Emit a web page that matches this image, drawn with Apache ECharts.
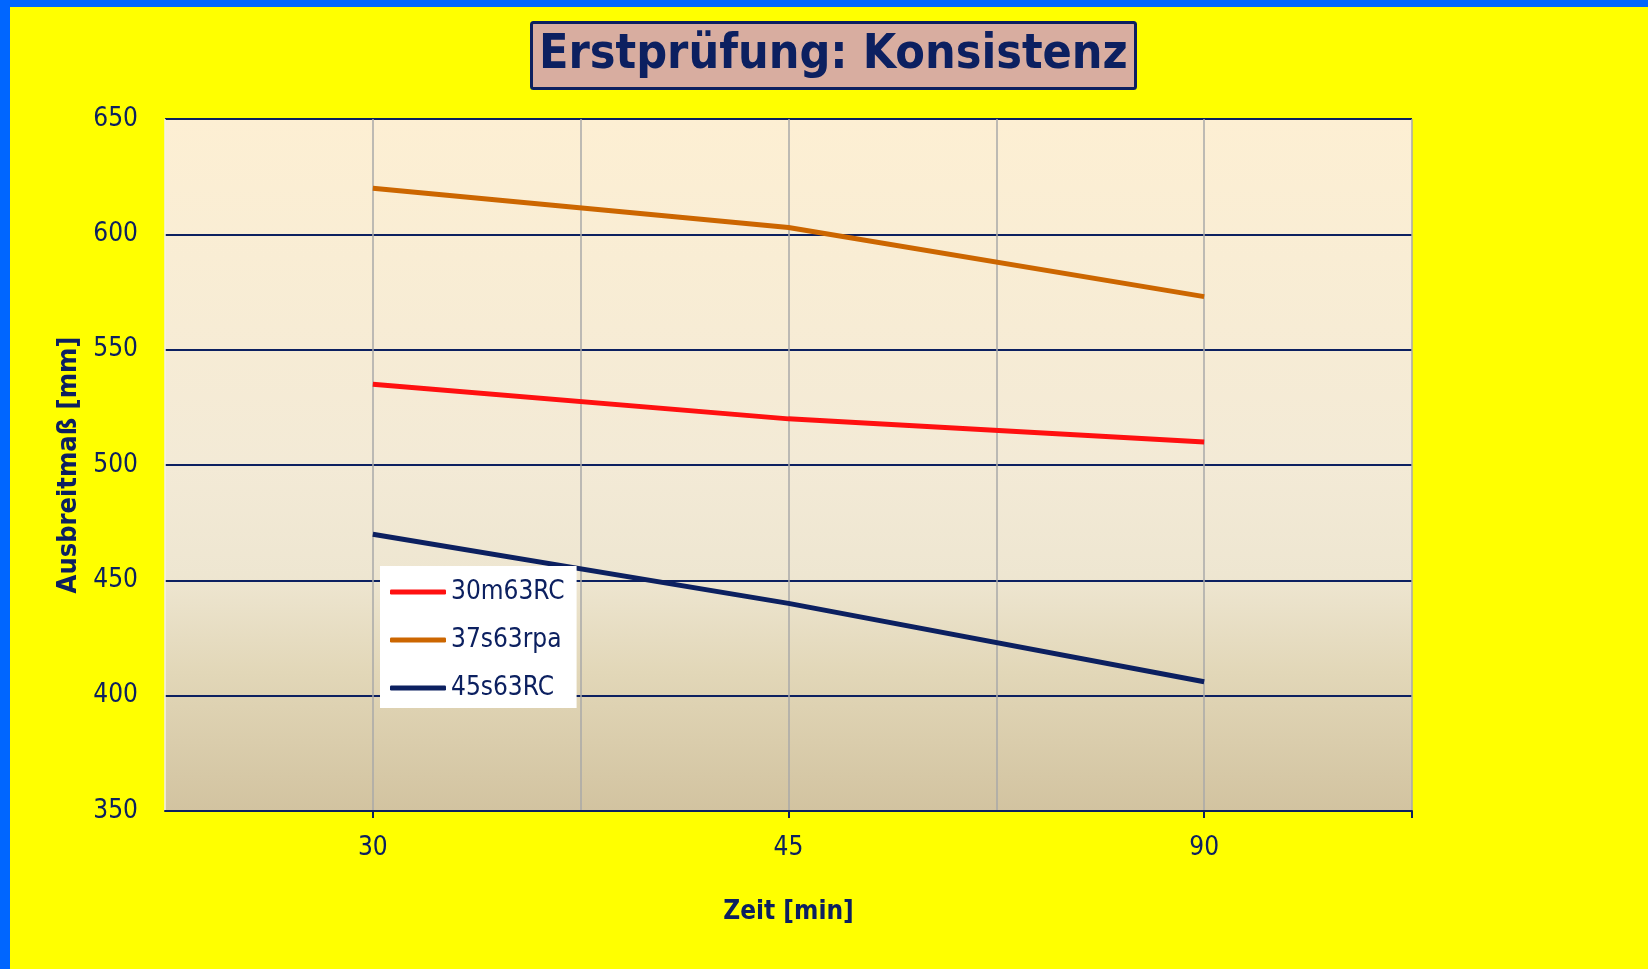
<!DOCTYPE html>
<html>
<head>
<meta charset="utf-8">
<script src="https://cdn.jsdelivr.net/npm/echarts@6/dist/echarts.min.js"></script>
<style>
html,body{margin:0;padding:0;background:#ffff00;}
#chart{width:1648px;height:969px;}
</style>
</head>
<body>
<div id="chart"></div>
<script>
// Category slots of the x axis (blank slots between the measured times)
const categories = ['', '30', '', '45', '', '90', ''];
const times = ['30', '45', '90'];
const seriesNames = ['30m63RC', '37s63rpa', '45s63RC'];
const s30m63RC = [535, 520, 510];
const s37s63rpa = [620, 603, 573];
const s45s63RC = [470, 440, 406];
const yTicks = [350, 400, 450, 500, 550, 600, 650];

const navy = '#0c2060';
const font = '"DejaVu Sans Condensed", "DejaVu Sans", sans-serif';

function toSlots(vals) {
  return categories.map(c => {
    const i = times.indexOf(c);
    return i >= 0 ? vals[i] : null;
  });
}

const colors = ['#ff1010', '#cc6600', navy];
const valueSets = [s30m63RC, s37s63rpa, s45s63RC];

const chart = echarts.init(document.getElementById('chart'), null, {renderer: 'canvas'});
chart.setOption({
  backgroundColor: '#ffff00',
  animation: false,
  graphic: [
    {type: 'rect', shape: {x: 0, y: 0, width: 1648, height: 7}, style: {fill: '#0066ff'}, z: 100},
    {type: 'rect', shape: {x: 0, y: 0, width: 10, height: 969}, style: {fill: '#0066ff'}, z: 100}
  ],
  title: {
    text: 'Erstprüfung: Konsistenz',
    left: 531, top: 22,
    padding: [6, 8, 5, 8],
    backgroundColor: '#d8ada0',
    borderColor: navy,
    borderWidth: 3,
    borderRadius: 2,
    textStyle: {fontFamily: font, fontSize: 48, fontWeight: 'bold', color: navy, lineHeight: 56}
  },
  legend: {
    orient: 'vertical',
    left: 380, top: 566,
    backgroundColor: '#ffffff',
    padding: [11, 12, 5, 10],
    itemWidth: 56, itemHeight: 5,
    itemGap: 18,
    icon: 'roundRect',
    textStyle: {fontFamily: font, fontSize: 26, color: navy, lineHeight: 30},
    data: seriesNames
  },
  grid: {
    left: 165, right: 236, top: 119, bottom: 158,
    show: true,
    borderWidth: 0,
    backgroundColor: new echarts.graphic.LinearGradient(0, 0, 0, 1, [
      {offset: 0, color: '#fdefd3'},
      {offset: 0.5, color: '#f3ead6'},
      {offset: 0.66, color: '#eee6d1'},
      {offset: 0.8, color: '#e2d7b8'},
      {offset: 1, color: '#d2c3a0'}
    ])
  },
  xAxis: {
    type: 'category',
    data: categories,
    boundaryGap: false,
    name: 'Zeit [min]',
    nameLocation: 'middle',
    nameGap: 88,
    nameTextStyle: {fontFamily: font, fontSize: 26, fontWeight: 'bold', color: navy},
    axisLine: {lineStyle: {color: navy, width: 2}},
    axisTick: {
      show: true,
      length: 7,
      interval: function (index, value) { return value !== '' || index === categories.length - 1; },
      lineStyle: {color: navy, width: 2}
    },
    axisLabel: {interval: 0, margin: 24, fontFamily: font, fontSize: 26, color: navy},
    splitLine: {
      show: true,
      interval: 0,
      lineStyle: {color: ['#f4f0e8', '#a8a8a8', '#a8a8a8', '#a8a8a8', '#a8a8a8', '#a8a8a8', '#a8a8a8'], width: 1.5}
    }
  },
  yAxis: {
    type: 'value',
    min: yTicks[0], max: yTicks[yTicks.length - 1], interval: 50,
    name: 'Ausbreitmaß [mm]',
    nameLocation: 'middle',
    nameGap: 76,
    nameRotate: 90,
    nameTextStyle: {fontFamily: font, fontSize: 27, fontWeight: 'bold', color: navy},
    axisLine: {show: false},
    axisTick: {show: false},
    axisLabel: {margin: 27, fontFamily: font, fontSize: 26, color: navy},
    splitLine: {show: true, lineStyle: {color: navy, width: 2}}
  },
  series: seriesNames.map((n, i) => ({
    name: n,
    type: 'line',
    data: toSlots(valueSets[i]),
    connectNulls: true,
    showSymbol: false,
    symbol: 'none',
    color: colors[i],
    lineStyle: {color: colors[i], width: 5}
  }))
});
</script>
</body>
</html>
